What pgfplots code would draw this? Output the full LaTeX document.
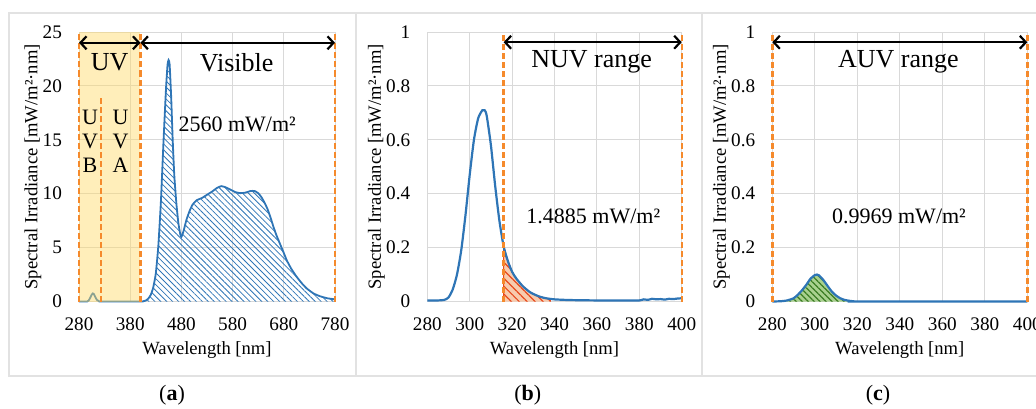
\documentclass[border=0pt]{standalone}
\usepackage{fontspec}
\setmainfont{Liberation Serif}
\usepackage{pgfplots}
\pgfplotsset{compat=1.18}
\usetikzlibrary{patterns.meta, arrows.meta}

\definecolor{gridgray}{HTML}{D9D9D9}
\definecolor{framegray}{HTML}{E2E2E2}
\definecolor{spec}{HTML}{2E75B6}
\definecolor{orng}{HTML}{F58A2C}
\definecolor{uvyel}{HTML}{FFD966}
\definecolor{nuvfill}{HTML}{F8CBAD}
\definecolor{nuvline}{HTML}{E8491D}
\definecolor{auvfill}{HTML}{A9D18E}
\definecolor{auvline}{HTML}{3B7D23}

\pgfplotsset{
  panel/.style={
    scale only axis, clip=false, anchor=south west,
    axis line style={draw=none}, tick style={draw=none},
    grid=major, grid style={gridgray, line width=0.5pt},
    ymin=0,
    /pgf/number format/assume math mode=true,
    ticklabel style={font=\fontsize{9.6}{11}\selectfont},
    xticklabel style={yshift=-4.5pt},
    yticklabel style={xshift=-5pt},
    label style={font=\fontsize{9.3}{10}\selectfont},
    xlabel={Wavelength [nm]},
    ylabel={Spectral Irradiance [mW/m²·nm]},
    xlabel style={at={(axis description cs:0.5,-0.18)}, anchor=center},
    ylabel style={at={(axis description cs:-0.2,0.5)}, anchor=center},
  },
  vline/.style={orng, line width=1.2pt, dash pattern=on 3pt off 1.5pt},
}
\tikzset{
  rng/.style={black, line width=1.1pt,
    {Straight Barb[length=3pt,width=6.5pt]}-{Straight Barb[length=3pt,width=6.5pt]}},
  big/.style={font=\fontsize{13}{14}\selectfont},
  mid/.style={font=\fontsize{11}{12}\selectfont},
}

\begin{document}
\begin{tikzpicture}
\useasboundingbox (0pt,0pt) rectangle (518pt,204pt);
% panel frames
\draw[framegray, line width=0.6pt] (4.5pt,16pt) rectangle (178pt,197.5pt);
\draw[framegray, line width=0.6pt] (178pt,16pt) rectangle (351pt,197.5pt);
\draw[framegray, line width=0.6pt] (351pt,16pt) rectangle (530pt,197.5pt);

% (a) full spectrum
\begin{axis}[panel, at={(39.5pt,53.25pt)}, width=128pt, height=134.75pt,
  xmin=280, xmax=780, ymax=25, xtick={280,380,...,780}, ytick={0,5,...,25},
  ylabel style={at={(axis description cs:-0.18,0.5)}}]
  \addplot[draw=none, pattern={Lines[angle=-45,distance=2.1pt,line width=0.4pt]}, pattern color=spec]
    coordinates {
    (400,0)(405,0.02)(410,0.08)(415,0.25)(420,0.6)(425,1.3)(430,2.6)(435,5.2)(440,9.3)
    (445,14.8)(450,19.8)(453,22.0)(455,22.4)(457,22.0)(460,19.0)(463,15.0)(466,11.8)
    (470,9.2)(474,7.3)(478,6.2)(480,6.0)(484,6.5)(490,7.6)(496,8.4)(502,9.0)(510,9.4)
    (520,9.6)(530,9.9)(540,10.2)(550,10.55)(558,10.7)(566,10.6)(575,10.4)(585,10.15)
    (595,10.05)(605,10.1)(615,10.25)(623,10.25)(630,10.05)(636,9.7)(642,9.2)(648,8.6)
    (654,7.8)(660,6.9)(666,6.1)(673,5.3)(680,4.5)(686,3.8)(695,3.0)(705,2.3)(715,1.7)
    (725,1.2)(738,0.75)(750,0.5)(765,0.3)(780,0.2)} \closedcycle;
  \addplot[spec, line width=0.9pt, smooth, tension=0.3] coordinates {
    (280,0)(296,0)(299,0.1)(302,0.35)(305,0.65)(307,0.75)(309,0.7)(312,0.4)(315,0.15)
    (319,0.03)(324,0)(400,0)
    (405,0.02)(410,0.08)(415,0.25)(420,0.6)(425,1.3)(430,2.6)(435,5.2)(440,9.3)
    (445,14.8)(450,19.8)(453,22.0)(455,22.4)(457,22.0)(460,19.0)(463,15.0)(466,11.8)
    (470,9.2)(474,7.3)(478,6.2)(480,6.0)(484,6.5)(490,7.6)(496,8.4)(502,9.0)(510,9.4)
    (520,9.6)(530,9.9)(540,10.2)(550,10.55)(558,10.7)(566,10.6)(575,10.4)(585,10.15)
    (595,10.05)(605,10.1)(615,10.25)(623,10.25)(630,10.05)(636,9.7)(642,9.2)(648,8.6)
    (654,7.8)(660,6.9)(666,6.1)(673,5.3)(680,4.5)(686,3.8)(695,3.0)(705,2.3)(715,1.7)
    (725,1.2)(738,0.75)(750,0.5)(765,0.3)(780,0.2)};
  % UV band
  \addplot[draw=none, fill=uvyel, fill opacity=0.45] coordinates {(280,0)(280,25)(400,25)(400,0)};
  \addplot[vline] coordinates {(280,0)(280,25)};
  \addplot[vline] coordinates {(400,0)(400,25)};
  \addplot[vline] coordinates {(780,0)(780,25)};
  \addplot[vline] coordinates {(323,0)(323,19)};
  \draw[rng] (axis cs:280,24) -- (axis cs:400,24);
  \draw[rng] (axis cs:400,24) -- (axis cs:780,24);
  \node[big] at (axis cs:340,22.2) {UV};
  \node[big] at (axis cs:588,22.2) {Visible};
  \node[mid, align=center] at (axis cs:301.5,14.86) {U\\V\\B};
  \node[mid, align=center] at (axis cs:361,14.86) {U\\V\\A};
  \node[mid] at (axis cs:589,16.4) {2560 mW/m²};
\end{axis}

% (b) NUV range
\begin{axis}[panel, at={(213.65pt,53.25pt)}, width=127.2pt, height=134.75pt,
  xmin=280, xmax=400, ymax=1, xtick={280,300,...,400}, ytick={0,0.2,0.4,0.6,0.8,1}]
  \addplot[fill=nuvfill, draw=nuvline, line width=0.6pt] coordinates {
    (316,0)(316,0.205)(318,0.15)(320,0.11)(322,0.085)(325,0.057)(328,0.037)(330,0.028)
    (333,0.018)(336,0.012)(338,0.008)(338,0)};
  \addplot[draw=none, pattern={Lines[angle=-45,distance=2.8pt,line width=0.6pt]}, pattern color=nuvline]
    coordinates {
    (316,0)(316,0.205)(318,0.15)(320,0.11)(322,0.085)(325,0.057)(328,0.037)(330,0.028)
    (333,0.018)(336,0.012)(338,0.008)(338,0)};
  \addplot[spec, line width=1.1pt, smooth, tension=0.4] coordinates {
    (280,0.004)(285,0.004)(288,0.006)(290,0.015)(292,0.045)(294,0.10)(296,0.19)(298,0.32)
    (300,0.47)(302,0.60)(304,0.68)(306,0.71)(307,0.71)(308,0.69)(310,0.58)(312,0.43)
    (314,0.30)(316,0.205)(318,0.15)(320,0.11)(322,0.085)(325,0.057)(328,0.037)(330,0.028)
    (333,0.018)(336,0.012)(340,0.008)(345,0.006)(350,0.005)(360,0.004)(370,0.004)
    (380,0.004)(382,0.008)(384,0.006)(386,0.010)(388,0.008)(390,0.009)(392,0.007)
    (394,0.010)(396,0.009)(398,0.011)(400,0.012)};
  \addplot[vline] coordinates {(316,0)(316,1)};
  \addplot[vline] coordinates {(400,0)(400,1)};
  \draw[rng] (axis cs:316,0.962) -- (axis cs:400,0.962);
  \node[big] at (axis cs:357.5,0.89) {NUV range};
  \node[mid] at (axis cs:358.3,0.317) {1.4885 mW/m²};
\end{axis}

% (c) AUV range
\begin{axis}[panel, at={(386.15pt,53.25pt)}, width=127.5pt, height=134.75pt,
  xmin=280, xmax=400, ymax=1, xtick={280,300,...,400}, ytick={0,0.2,0.4,0.6,0.8,1}]
  \addplot[fill=auvfill, draw=none] coordinates {
    (284,0)(284,0.001)(287,0.004)(290,0.012)(292,0.025)(294,0.042)(296,0.062)(298,0.085)
    (300,0.098)(301,0.1)(302,0.097)(304,0.08)(306,0.058)(308,0.037)(310,0.022)(312,0.012)
    (314,0.006)(316,0.003)(318,0.001)(320,0)};
  \addplot[draw=none, pattern={Lines[angle=-45,distance=2.1pt,line width=0.6pt]}, pattern color=auvline]
    coordinates {
    (284,0)(284,0.001)(287,0.004)(290,0.012)(292,0.025)(294,0.042)(296,0.062)(298,0.085)
    (300,0.098)(301,0.1)(302,0.097)(304,0.08)(306,0.058)(308,0.037)(310,0.022)(312,0.012)
    (314,0.006)(316,0.003)(318,0.001)(320,0)};
  \addplot[spec, line width=1.1pt, smooth, tension=0.4] coordinates {
    (280,0)(284,0.001)(287,0.004)(290,0.012)(292,0.025)(294,0.042)(296,0.062)(298,0.085)
    (300,0.098)(301,0.1)(302,0.097)(304,0.08)(306,0.058)(308,0.037)(310,0.022)(312,0.012)
    (314,0.006)(316,0.003)(318,0.001)(320,0)(400,0)};
  \addplot[vline] coordinates {(280,0)(280,1)};
  \addplot[vline] coordinates {(400,0)(400,1)};
  \draw[rng] (axis cs:280,0.962) -- (axis cs:400,0.962);
  \node[big] at (axis cs:339.3,0.89) {AUV range};
  \node[mid] at (axis cs:339.6,0.317) {0.9969 mW/m²};
\end{axis}

% captions
\node[font=\fontsize{11}{12}\selectfont] at (86pt,6.5pt) {(\textbf{a})};
\node[font=\fontsize{11}{12}\selectfont] at (263.9pt,6.5pt) {(\textbf{b})};
\node[font=\fontsize{11}{12}\selectfont] at (439pt,6.5pt) {(\textbf{c})};
\end{tikzpicture}
\end{document}
